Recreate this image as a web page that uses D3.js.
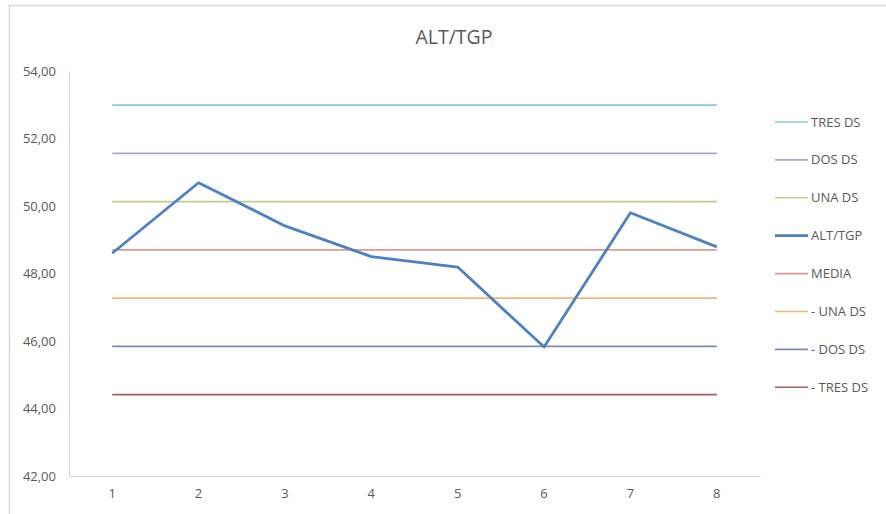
<!DOCTYPE html>
<html>
<head>
<meta charset="utf-8">
<script src="https://cdn.jsdelivr.net/npm/d3@7"></script>
<style>
  html, body { margin: 0; padding: 0; background: #ffffff; }
  svg { display: block; }
  text { font-family: "Open Sans", "Noto Sans", sans-serif; fill: #595959; }
</style>
</head>
<body>
<svg id="chart" width="886" height="514"></svg>
<script>
// Sample points along the x axis
const categories = [1, 2, 3, 4, 5, 6, 7, 8];

// ALT/TGP readings
const altTgp = [48.60, 50.69, 49.41, 48.50, 48.19, 45.82, 49.80, 48.79];

// Control limits: mean and ±1/2/3 standard deviations
const limitNames  = ["TRES DS", "DOS DS", "UNA DS", "MEDIA", "- UNA DS", "- DOS DS", "- TRES DS"];
const limitValues = [52.99, 51.56, 50.13, 48.70, 47.27, 45.84, 44.41];

// Legend order and y-axis ticks
const legendOrder = ["TRES DS", "DOS DS", "UNA DS", "ALT/TGP", "MEDIA", "- UNA DS", "- DOS DS", "- TRES DS"];
const yTicks = [42, 44, 46, 48, 50, 52, 54];

const colors = {
  "TRES DS":   "#86cad9",
  "DOS DS":    "#b1a3c8",
  "UNA DS":    "#b9d08e",
  "ALT/TGP":   "#4f81bd",
  "MEDIA":     "#dd9896",
  "- UNA DS":  "#f9b577",
  "- DOS DS":  "#7a8eaa",
  "- TRES DS": "#a5605e"
};

const svg = d3.select("#chart");

// Outer chart frame
svg.append("path")
  .attr("d", "M9.5,514 L9.5,5.5 L886,5.5")
  .attr("fill", "none")
  .attr("stroke", "#d9d9d9")
  .attr("stroke-width", 1.5);

const plot = { left: 69, right: 760, top: 71, bottom: 476 };

const x = d3.scaleBand()
  .domain(categories)
  .range([plot.left, plot.right])
  .padding(0);

const y = d3.scaleLinear()
  .domain([42, 54])
  .range([plot.bottom, plot.top]);

const cx = d => x(d) + x.bandwidth() / 2;

// Title
svg.append("text")
  .attr("x", 454)
  .attr("y", 44)
  .attr("text-anchor", "middle")
  .style("font-size", "19.5px")
  .text("ALT/TGP");

// Y axis
const yAxis = svg.append("g")
  .attr("transform", `translate(${plot.left},0)`)
  .call(d3.axisLeft(y).tickValues(yTicks).tickSize(0).tickPadding(13)
    .tickFormat(d => d3.format(".2f")(d).replace(".", ",")));
yAxis.select(".domain").attr("stroke", "#d9d9d9").attr("stroke-width", 1);
yAxis.selectAll("text")
  .style("font-size", "13px")
  .style("fill", "#595959")
  .style("font-family", "'Open Sans', sans-serif");

// X axis
const xAxis = svg.append("g")
  .attr("transform", `translate(0,${plot.bottom})`)
  .call(d3.axisBottom(x).tickSize(0).tickPadding(13));
xAxis.select(".domain").attr("stroke", "#d9d9d9").attr("stroke-width", 1);
xAxis.selectAll("text")
  .style("font-size", "13px")
  .style("fill", "#595959")
  .style("font-family", "'Open Sans', sans-serif");

const line = d3.line().x(d => cx(d.c)).y(d => y(d.v));

// Control limit lines
limitNames.forEach((name, i) => {
  const pts = categories.map(c => ({ c, v: limitValues[i] }));
  svg.append("path")
    .datum(pts)
    .attr("d", line)
    .attr("fill", "none")
    .attr("stroke", colors[name])
    .attr("stroke-width", 1.6);
});

// ALT/TGP series
svg.append("path")
  .datum(categories.map((c, i) => ({ c, v: altTgp[i] })))
  .attr("d", line)
  .attr("fill", "none")
  .attr("stroke", colors["ALT/TGP"])
  .attr("stroke-width", 2.8)
  .attr("stroke-linejoin", "round");

// Legend
const legend = svg.append("g");
legendOrder.forEach((name, i) => {
  const ly = 122 + i * 37.9;
  legend.append("line")
    .attr("x1", 775).attr("x2", 808)
    .attr("y1", ly).attr("y2", ly)
    .attr("stroke", colors[name])
    .attr("stroke-width", name === "ALT/TGP" ? 2.8 : 1.6);
  legend.append("text")
    .attr("x", 811)
    .attr("y", ly)
    .attr("dy", "0.35em")
    .style("font-size", "13px")
    .text(name);
});
</script>
</body>
</html>
